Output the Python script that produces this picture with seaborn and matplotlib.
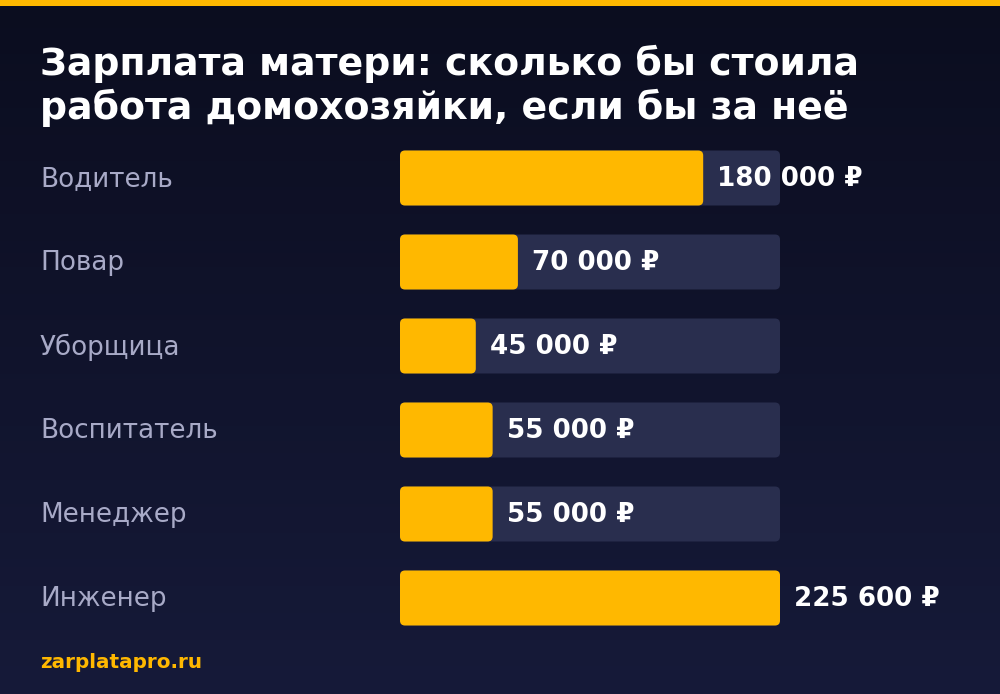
import numpy as np
import pandas as pd
import matplotlib
matplotlib.use("Agg")
import matplotlib.pyplot as plt
import matplotlib.transforms as mtransforms
from matplotlib.patches import FancyBboxPatch, Rectangle
from matplotlib.colors import LinearSegmentedColormap
import seaborn as sns

# data
jobs = ["Водитель", "Повар", "Уборщица", "Воспитатель", "Менеджер", "Инженер"]
salaries = [180000, 70000, 45000, 55000, 55000, 225600]
title_lines = ["Зарплата матери: сколько бы стоила",
               "работа домохозяйки, если бы за неё"]
source = "zarplatapro.ru"

YELLOW = "#ffb800"
TRACK = "#292e4e"
LABEL = "#a8aac7"
BG_TOP = "#0b0d1f"
BG_BOTTOM = "#161a39"

sns.set_theme(style="white")
plt.rcParams['font.family'] = ['DejaVu Sans']

fig = plt.figure(figsize=(10, 6.94), dpi=100)

# background gradient + top stripe
bg = fig.add_axes([0, 0, 1, 1], zorder=0)
grad = np.linspace(0, 1, 256).reshape(-1, 1)
cmap = LinearSegmentedColormap.from_list("bg", [BG_TOP, BG_BOTTOM])
bg.imshow(grad, aspect="auto", cmap=cmap, extent=[0, 1, 0, 1], origin="upper")
bg.add_patch(Rectangle((0, 1 - 6 / 694), 1, 6 / 694, color=YELLOW, lw=0))
bg.set_xlim(0, 1)
bg.set_ylim(0, 1)
bg.axis("off")

# bar axes: 400..780 px wide, rows every 84 px starting at 178 px
ax = fig.add_axes([0.40, 54 / 694, 0.38, 504 / 694], zorder=1)
ax.patch.set_alpha(0)

df = pd.DataFrame({"job": jobs, "salary": salaries})
df["track"] = df["salary"].max()
bar_w = 55 / 84

sns.barplot(data=df, x="track", y="job", color=TRACK, saturation=1,
            width=bar_w, ax=ax)
sns.barplot(data=df, x="salary", y="job", color=YELLOW, saturation=1,
            width=bar_w, ax=ax)

xmax = df["salary"].max()
ax.set_xlim(0, xmax)
ax.set_ylim(len(jobs) - 0.5, -0.5)
ax.axis("off")

# rounded corners
ux = xmax / (0.38 * 1000)
uy = len(jobs) / 504
for p in list(ax.patches):
    x, y, w, h = p.get_x(), p.get_y(), p.get_width(), p.get_height()
    fc = p.get_facecolor()
    p.remove()
    ax.add_patch(FancyBboxPatch((x, y), w, h,
                                boxstyle=f"round,pad=0,rounding_size={5 * ux}",
                                mutation_aspect=uy / ux, fc=fc, ec="none"))

# value labels
for i, v in enumerate(salaries):
    txt = f"{v:,}".replace(",", " ") + " ₽"
    ax.annotate(txt, xy=(v, i), xytext=(10, -1), textcoords="offset points",
                ha="left", va="center", color="white", fontsize=18.8,
                fontweight="bold")

# category labels at the left edge
trans = mtransforms.blended_transform_factory(fig.transFigure, ax.transData)
for i, job in enumerate(jobs):
    ax.text(0.04, i + 0.012, job, transform=trans, ha="left", va="center",
            color=LABEL, fontsize=18.9, clip_on=False)

# title and source
fig.text(0.04, 1 - 75 / 694, title_lines[0], color="white", fontsize=27.3,
         fontweight="bold", va="baseline", ha="left")
fig.text(0.04, 1 - 119 / 694, title_lines[1], color="white", fontsize=27.3,
         fontweight="bold", va="baseline", ha="left")
fig.text(0.04, 1 - 668 / 694, source, color=YELLOW, fontsize=14.4,
         fontweight="bold", va="baseline", ha="left")

fig.savefig("out.png", dpi=100)
